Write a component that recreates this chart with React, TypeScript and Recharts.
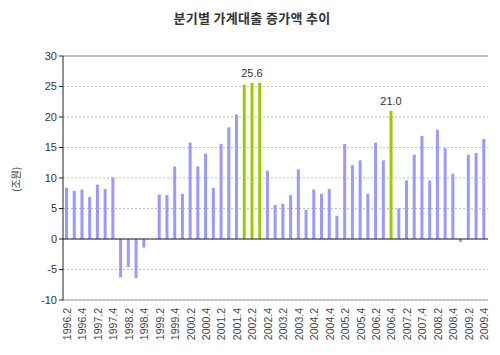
import { BarChart, Bar, XAxis, YAxis, CartesianGrid, ReferenceLine, Cell, LabelList } from 'recharts'

const years = [1996, 1997, 1998, 1999, 2000, 2001, 2002, 2003, 2004, 2005, 2006, 2007, 2008, 2009]
const quarters = years.flatMap((y) => [1, 2, 3, 4].map((q) => `${y}.${q}`)).filter((q) => q !== '1996.1')

// 분기별 증가액 (조원)
const values = [
  8.4, 7.9, 8.1,
  6.9, 8.9, 8.2, 10.1,
  -6.3, -4.6, -6.4, -1.4,
  0, 7.3, 7.2, 11.9,
  7.4, 15.8, 11.9, 14.0,
  8.4, 15.6, 18.3, 20.4,
  25.3, 25.6, 25.6, 11.2,
  5.6, 5.8, 7.2, 11.4,
  4.8, 8.1, 7.4, 8.2,
  3.8, 15.6, 12.1, 12.9,
  7.4, 15.8, 12.9, 21.0,
  5.0, 9.6, 13.8, 16.9,
  9.6, 17.9, 14.9, 10.7,
  -0.5, 13.8, 14.1, 16.4,
]
const highlighted = ['2002.1', '2002.2', '2002.3', '2006.4']
const labelled = ['2002.2', '2006.4']
const yTicks = [-10, -5, 0, 5, 10, 15, 20, 25, 30]

const data = quarters.map((q, i) => ({
  q,
  v: values[i],
  lbl: labelled.includes(q) ? values[i].toFixed(1) : '',
}))

const font = '"Liberation Sans", Arial, sans-serif'

function XTick({ x, y, payload }: any) {
  return (
    <text x={x} y={y} transform={`rotate(-90 ${x} ${y})`} textAnchor="end" dy={4}
      fontSize={10.5} fill="#444" fontFamily={font}>
      {payload.value}
    </text>
  )
}

export default function App() {
  return (
    <div style={{ position: 'absolute', left: 0, top: 0, width: 500, height: 355, background: '#fff' }}>
      <div style={{ position: 'absolute', top: 8, left: 2, width: 500, textAlign: 'center', fontSize: 13, fontWeight: 'bold',
        color: '#333', letterSpacing: 0.3, fontFamily: '"Noto Sans CJK KR", sans-serif' }}>
        분기별 가계대출 증가액 추이
      </div>
      <BarChart width={500} height={355} data={data} margin={{ top: 56, right: 12, bottom: 0, left: 0 }} barCategoryGap={0}>
        <CartesianGrid vertical={false} stroke="#bbb" strokeDasharray="2 2" />
        <XAxis dataKey="q" interval={1} tick={<XTick />} tickLine={false} axisLine={{ stroke: '#999' }} height={55} />
        <YAxis domain={[-10, 30]} ticks={yTicks} interval={0} width={63} axisLine={{ stroke: '#222' }}
          tickLine={{ stroke: '#222' }} tickSize={4}
          tick={{ fontSize: 11, fill: '#333', fontFamily: font }}
          label={{ value: '(조원)', angle: -90, position: 'insideLeft', offset: 16, dy: 14,
            style: { fontSize: 10, fill: '#333', fontFamily: '"Noto Sans CJK KR", sans-serif' } }} />
        <YAxis yAxisId="r" orientation="right" width={0} tick={false} tickLine={false} axisLine={{ stroke: '#999' }} />
        <ReferenceLine y={30} stroke="#999" />
        <ReferenceLine y={0} stroke="#222" />
        <Bar dataKey="v" barSize={3} isAnimationActive={false}>
          {data.map((d) => (
            <Cell key={d.q} fill={highlighted.includes(d.q) ? '#99CC00' : '#9999FF'} />
          ))}
          <LabelList dataKey="lbl" position="top" offset={6} style={{ fontSize: 11, fill: '#333', fontFamily: font }} />
        </Bar>
      </BarChart>
    </div>
  )
}
